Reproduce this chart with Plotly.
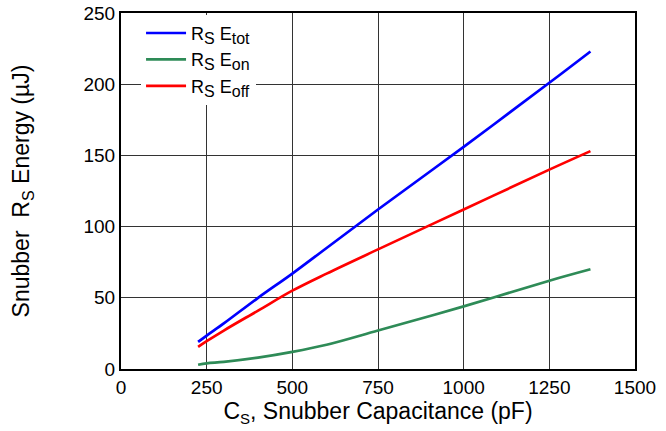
import plotly.graph_objects as go

cap_pf = [225, 250, 300, 400, 500, 600, 750, 1000, 1250, 1370]
e_tot = [19, 23.5, 32, 50, 67, 85, 112, 156, 201, 223]
e_on = [3, 4, 5, 8, 12, 17, 27, 44, 62, 70]
e_off = [15.5, 19.5, 27, 41, 55, 67, 84, 112, 140, 153]

x_ticks = [0, 250, 500, 750, 1000, 1250, 1500]
y_ticks = [0, 50, 100, 150, 200, 250]


def sub(t):
    return "<sub><span style='font-size:16px'>" + t + "</span></sub>"


series = [
    ("R" + sub("S") + " E" + sub("tot"), e_tot, "#0000FF"),
    ("R" + sub("S") + " E" + sub("on"), e_on, "#2E8B57"),
    ("R" + sub("S") + " E" + sub("off"), e_off, "#FF0000"),
]

fig = go.Figure()
for name, vals, color in series:
    fig.add_trace(go.Scatter(x=cap_pf, y=vals, mode="lines", name=name,
                             line=dict(color=color, width=2.7, shape="spline")))

fam = "Liberation Sans, Arial, sans-serif"
font = dict(family=fam, size=19, color="black")
fig.update_layout(
    width=666, height=431,
    margin=dict(l=121, r=31, t=13, b=62),
    paper_bgcolor="white", plot_bgcolor="white",
    font=font,
    showlegend=True,
    legend=dict(x=0.039, y=0.995, xanchor="left", yanchor="top",
                bgcolor="white", borderwidth=0,
                font=dict(family=fam, size=18, color="black"),
                tracegroupgap=0, itemwidth=40),
    xaxis=dict(range=[0, 1500], tickvals=x_ticks, ticks="", automargin=False,
               showgrid=True, gridcolor="#333", gridwidth=1.3,
               showline=True, linecolor="black", linewidth=2, mirror=True,
               zeroline=False,
               title=dict(text="C<sub><span style='font-size:15px'>S</span></sub>, Snubber Capacitance (pF)",
                          standoff=6)),
    yaxis=dict(range=[0, 250], tickvals=y_ticks, ticks="", automargin=False,
               showgrid=True, gridcolor="#333", gridwidth=1.3,
               showline=True, linecolor="black", linewidth=2, mirror=True,
               zeroline=False,
               title=dict(text="Snubber  R<sub>S</sub> Energy (µJ)", standoff=47)),
)

fig.write_html("out.html", config={"displayModeBar": False},
               post_script="document.body.style.margin='0';document.body.style.overflow='hidden';")
